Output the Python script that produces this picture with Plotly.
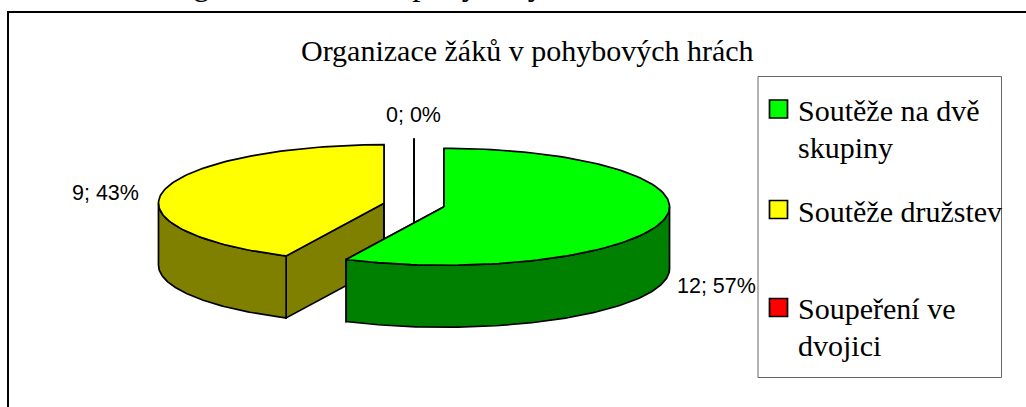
"""
Organizace zaku v pohybovych hrach: 3D-look exploded pie, drawn as filled scatter polygons.
"""
import numpy as np
import plotly.graph_objects as go

TITLE = 'Organizace žáků v pohybových hrách'
CATEGORIES = ['Soutěže na dvě<br>skupiny', 'Soutěže družstev', 'Soupeření ve<br>dvojici']
VALUES = [12, 9, 0]
TOP_COLORS = ['#00FF00', '#FFFF00', '#FF0000']
SIDE_COLORS = ['#008000', '#808000', '#800000']

# pie geometry in page pixels
CX, CY = 414, 205
RX, RY = 225.5, 58.5
DEPTH = 62
EXPLODE = 30.8

SERIF = 'Liberation Serif, Times New Roman, serif'
SANS = 'Liberation Sans, Arial, sans-serif'

total = sum(VALUES)
ends = np.cumsum(VALUES) / total * 360
starts = np.concatenate([[0], ends[:-1]])


def arc(cx, cy, a0, a1):
    t = np.radians(np.linspace(a0, a1, 120))
    return cx + RX * np.sin(t), cy - RY * np.cos(t)


def poly(xs, ys, fill):
    return go.Scatter(
        x=xs, y=ys, mode='lines', fill='toself', fillcolor=fill,
        line=dict(color='black', width=1.7), hoverinfo='skip', showlegend=False,
    )


def slice_traces(i):
    a0, a1 = starts[i], ends[i]
    if a0 == a1:
        # Nullwert: sitzt oben auf der Achse
        a0, a1 = 360, 360
    mid = np.radians((a0 + a1) / 2)
    cx = CX + EXPLODE * np.sin(mid)
    cy = CY - EXPLODE * RY / RX * np.cos(mid)
    rim_x, rim_y = arc(cx, cy, a0, a1)
    out = []
    # cut faces
    for a in (a0, a1):
        x, y = arc(cx, cy, a, a)
        out.append(poly([cx, x[0], x[0], cx, cx],
                        [cy, y[0], y[0] + DEPTH, cy + DEPTH, cy], SIDE_COLORS[i]))
    # outer wall, only the front half shows
    f0, f1 = max(a0, 90), min(a1, 270)
    if f0 < f1:
        wx, wy = arc(cx, cy, f0, f1)
        out.append(poly(np.r_[wx, wx[::-1], wx[0]],
                        np.r_[wy, wy[::-1] + DEPTH, wy[0]], SIDE_COLORS[i]))
    # top face
    out.append(poly(np.r_[cx, rim_x, cx], np.r_[cy, rim_y, cy], TOP_COLORS[i]))
    return out


fig = go.Figure()
for i in (1, 2, 0):  # back to front
    fig.add_traces(slice_traces(i))


def note(text, x, y, size, font, xanchor='center', yanchor='middle'):
    fig.add_annotation(
        text=text, x=x, y=y, xref='x', yref='y', showarrow=False,
        xanchor=xanchor, yanchor=yanchor, align='left',
        font=dict(family=font, size=size, color='black'),
        borderpad=0, borderwidth=0,
    )


note(TITLE, 527, 50, 30, SERIF)
# caption of the page above, cut off by the crop
note(TITLE, 159, 2, 33, SERIF, xanchor='left', yanchor='bottom')

pct = [f'{v}; {round(100 * v / total)}%' for v in VALUES]
note(pct[0], 716, 286, 21.5, SANS)
note(pct[1], 105, 193, 21.5, SANS)
note(pct[2], 413.5, 115, 21.5, SANS)

# legend box
shapes = [
    dict(type='rect', x0=8, y0=12, x1=1040, y1=420, line=dict(color='black', width=2), layer='below'),
    dict(type='rect', x0=758, y0=76.5, x1=1001.5, y1=377.5, line=dict(color='#666666', width=1),
         fillcolor='white', layer='below'),
]
fig.update_layout(shapes=shapes)

swatch_y = [109, 209.5, 307.5]
fig.add_trace(go.Scatter(
    x=[778.5] * 3, y=swatch_y, mode='markers', hoverinfo='skip', showlegend=False,
    marker=dict(symbol='square', size=18, color=TOP_COLORS, line=dict(color='black', width=1.7)),
))
# line pitch of the legend is tighter than plotly's 1.3em, so each line goes on its own
first_line_y = [110, 211, 308]
for name, y0 in zip(CATEGORIES, first_line_y):
    for k, part in enumerate(name.split('<br>')):
        note(part, 798, y0 + k * 37.5, 30, SERIF, xanchor='left')

fig.update_xaxes(range=[0, 1026], visible=False, fixedrange=True)
fig.update_yaxes(range=[407, 0], visible=False, fixedrange=True)
fig.update_layout(
    width=1026, height=407,
    margin=dict(t=0, b=0, l=0, r=0),
    paper_bgcolor='white', plot_bgcolor='white',
    showlegend=False,
)
fig.write_html('out.html', config=dict(displayModeBar=False),
               post_script="document.body.style.margin='0';document.body.style.overflow='hidden';")
